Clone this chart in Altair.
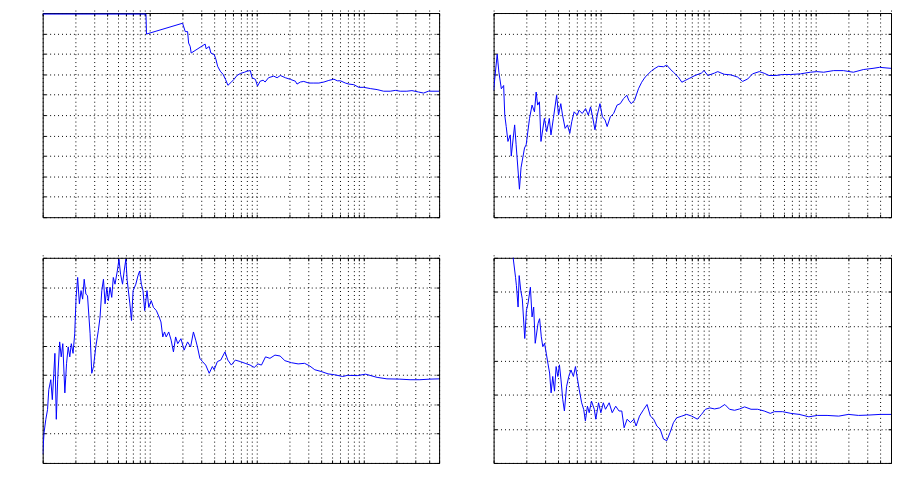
import altair as alt
import pandas as pd

# ---------------- data (y in grid units) ----------------
x1 = [1, 9.2, 9.3, 20.2, 21.4, 22.5, 23, 23.8, 24.3, 32.8, 33.5, 35.8, 37.1, 39.9, 41.4, 42.9,
      45.4, 48.3, 50.8, 53.5, 56.9, 60.9, 65.0, 70.0, 76.4, 80.5, 86.6, 89.9, 96.6, 101, 107,
      114, 119, 128, 143, 154, 165, 184, 205, 228, 236, 254, 273, 304, 339, 378, 421, 468, 522,
      561, 600, 668, 720, 800, 891, 992, 1140, 1320, 1520, 1750, 1950, 2170, 2500, 2790, 3220,
      3580, 3980, 5000]
y1 = [9.95, 9.95, 8.97, 9.50, 9.09, 9.09, 8.53, 8.36, 8.04, 8.48, 8.25, 8.36, 8.04, 7.96, 7.72, 7.39,
      7.15, 6.99, 6.75, 6.46, 6.59, 6.75, 6.94, 7.04, 7.10, 7.15, 7.18, 6.83, 6.75, 6.42, 6.66,
      6.71, 6.62, 6.83, 6.91, 6.83, 6.94, 6.83, 6.75, 6.66, 6.52, 6.62, 6.65, 6.57, 6.57, 6.57,
      6.62, 6.70, 6.76, 6.68, 6.68, 6.57, 6.52, 6.49, 6.36, 6.36, 6.30, 6.25, 6.17, 6.17, 6.21,
      6.17, 6.17, 6.20, 6.13, 6.08, 6.17, 6.17]

x2 = [1, 1.08, 1.12, 1.18, 1.24, 1.27, 1.31, 1.36, 1.43, 1.46, 1.57, 1.62, 1.74, 1.80, 1.94, 2.01,
      2.16, 2.28, 2.40, 2.49, 2.57, 2.67, 2.76, 2.97, 3.12, 3.30, 3.42, 3.60, 3.86, 4.02, 4.22,
      4.38, 4.63, 4.87, 5.12, 5.34, 5.62, 6.02, 6.23, 6.69, 7.18, 7.61, 7.99, 8.28, 8.78, 9.22,
      9.77, 10.3, 10.9, 11.4, 12.2, 13.1, 14.1, 15.1, 16.2, 17.4, 18.1, 19.1, 20.5, 22.3, 23.9,
      25.7, 27.6, 29.6, 31.8, 34.2, 38.1, 40.9, 43.9, 47.2, 52.5, 56.5, 60.8, 67.0, 74.9, 86.0,
      90.9, 98.7, 114, 122, 140, 162, 187, 208, 232, 257, 297, 330, 366, 424, 490, 580, 718, 888,
      1020, 1180, 1460, 1800, 2230, 2760, 3400, 3900, 5000]
y2 = [6.21, 7.98, 7.10, 6.29, 6.45, 5.0, 4.44, 3.71, 4.03, 2.99, 4.52, 3.55, 1.37, 2.42, 3.39, 3.55,
      4.84, 5.49, 5.16, 6.13, 5.49, 5.65, 3.71, 4.84, 4.19, 4.84, 4.03, 4.84, 5.97, 5.0, 5.56,
      5.0, 4.35, 4.52, 4.11, 4.68, 5.16, 5.0, 5.24, 5.08, 5.32, 5.0, 5.40, 5.0, 4.28, 5.0,
      5.56, 4.92, 4.76, 4.44, 4.92, 5.08, 5.49, 5.56, 5.81, 5.97, 5.73, 5.56, 5.73, 6.29, 6.61,
      6.86, 7.02, 7.18, 7.29, 7.39, 7.37, 7.45, 7.26, 7.10, 6.86, 6.61, 6.70, 6.81, 6.94, 7.06,
      7.18, 6.94, 7.06, 7.13, 7.0, 6.97, 6.86, 6.65, 6.77, 7.02, 7.13, 7.05, 6.94, 6.94, 6.99,
      6.99, 7.02, 7.10, 7.13, 7.10, 7.18, 7.18, 7.10, 7.23, 7.29, 7.34, 7.29]

x3 = [1, 1.03, 1.07, 1.11, 1.14, 1.19, 1.23, 1.27, 1.30, 1.34, 1.38, 1.44, 1.49, 1.54, 1.61, 1.67,
      1.73, 1.79, 1.85, 1.92, 1.99, 2.05, 2.12, 2.20, 2.28, 2.36, 2.44, 2.53, 2.62, 2.77, 2.87,
      2.98, 3.13, 3.31, 3.43, 3.56, 3.69, 3.82, 3.97, 4.10, 4.25, 4.41, 4.56, 4.73, 4.97, 5.15,
      5.33, 5.56, 5.76, 5.97, 6.15, 6.51, 6.74, 6.98, 7.40, 7.75, 8.03, 8.33, 8.63, 8.95, 9.41,
      9.77, 10.3, 10.8, 11.5, 12.2, 12.7, 13.2, 13.7, 14.2, 15.0, 15.8, 16.6, 17.4, 18.2, 19.5,
      20.9, 22.5, 24.0, 25.5, 26.8, 27.8, 29.3, 31.0, 33.2, 35.8, 38.3, 39.8, 42.7, 45.9, 50.2,
      53.4, 57.6, 62.7, 69.7, 77.5, 86.1, 94.3, 102, 110, 120, 132, 147, 164, 182, 210, 242, 278,
      310, 346, 398, 460, 529, 630, 700, 862, 1030, 1320, 1630, 2150, 2680, 3310, 4100, 5000]
y3 = [0.30, 1.03, 1.49, 1.82, 2.50, 2.84, 2.16, 3.06, 3.74, 1.49, 2.84, 4.13, 3.62, 4.07, 2.39, 3.40,
      3.96, 3.62, 4.07, 3.74, 4.41, 5.65, 6.33, 5.43, 5.88, 5.59, 6.27, 5.76, 5.71, 4.41, 3.06,
      3.29, 3.96, 4.53, 4.98, 5.88, 6.27, 5.43, 5.99, 5.54, 5.99, 5.65, 6.33, 6.10, 6.55, 6.95,
      6.44, 6.10, 6.55, 6.95, 6.22, 5.43, 4.86, 5.88, 6.10, 6.39, 6.55, 6.10, 5.88, 5.20, 5.88,
      5.31, 5.54, 5.31, 5.20, 4.98, 4.81, 4.30, 4.47, 4.30, 4.47, 4.19, 3.79, 4.30, 4.07, 4.24,
      3.85, 4.13, 3.96, 4.47, 4.19, 3.96, 3.57, 3.46, 3.34, 3.06, 3.29, 3.18, 3.46, 3.51, 3.79,
      3.51, 3.34, 3.51, 3.46, 3.40, 3.34, 3.26, 3.38, 3.34, 3.62, 3.57, 3.68, 3.65, 3.49, 3.42,
      3.38, 3.40, 3.31, 3.18, 3.12, 3.04, 3.01, 2.95, 2.99, 2.98, 3.03, 2.92, 2.87, 2.86, 2.84,
      2.84, 2.86, 2.87]

x4 = [1, 1.4, 1.52, 1.60, 1.63, 1.69, 1.73, 1.79, 1.85, 1.95, 2.02, 2.09, 2.20, 2.28, 2.36, 2.44,
      2.59, 2.68, 2.78, 2.87, 2.98, 3.09, 3.20, 3.32, 3.43, 3.55, 3.69, 3.82, 3.96, 4.10, 4.24,
      4.40, 4.56, 4.78, 5.01, 5.25, 5.53, 5.78, 5.98, 6.27, 6.60, 6.89, 7.15, 7.47, 7.76, 8.15,
      8.65, 8.94, 9.48, 9.96, 10.5, 11.0, 11.9, 12.7, 13.7, 14.7, 15.6, 16.4, 17.5, 18.8, 20.2,
      21.2, 22.8, 25.0, 26.8, 28.8, 30.9, 33.1, 35.5, 38.1, 40.9, 43.9, 47.2, 50.6, 56.5, 62.7,
      69.8, 79.0, 86.1, 93.8, 103, 114, 127, 142, 157, 175, 195, 217, 249, 287, 330, 376, 410,
      490, 585, 700, 860, 1030, 1270, 1630, 2010, 2490, 3070, 3970, 5000]
y4 = [7.0, 6.5, 6.0, 5.43, 5.19, 4.56, 5.48, 5.04, 4.80, 3.64, 4.46, 4.66, 5.14, 4.27, 4.56, 3.50,
      4.08, 4.22, 3.69, 3.40, 3.50, 3.21, 2.92, 2.63, 2.05, 2.53, 2.10, 2.82, 2.53, 2.87, 2.43,
      1.86, 1.52, 2.24, 2.53, 2.72, 2.53, 2.82, 2.53, 2.14, 1.76, 1.57, 1.23, 1.66, 1.47, 1.81,
      1.57, 1.28, 1.76, 1.47, 1.76, 1.57, 1.76, 1.47, 1.66, 1.52, 1.52, 1.03, 1.28, 1.18, 1.28,
      1.08, 1.37, 1.57, 1.71, 1.37, 1.28, 1.08, 0.99, 0.70, 0.65, 0.89, 1.18, 1.32, 1.37, 1.42,
      1.37, 1.28, 1.42, 1.57, 1.61, 1.58, 1.61, 1.71, 1.57, 1.54, 1.58, 1.64, 1.57, 1.57, 1.52,
      1.45, 1.50, 1.50, 1.45, 1.42, 1.35, 1.39, 1.39, 1.37, 1.42, 1.39, 1.40, 1.42, 1.42]

x_ticks = [1, 2, 3, 4, 5, 6, 7, 8, 9,
           10, 20, 30, 40, 50, 60, 70, 80, 90,
           100, 200, 300, 400, 500, 600, 700, 800, 900,
           1000, 2000, 3000, 4000, 5000]
y_max = [10, 10, 7, 6]

XDOM = [1, 5000]


def panel(xs, ys, ymax, width, height):
    df = pd.DataFrame({"x": xs, "y": ys})
    xscale = alt.Scale(type="log", domain=XDOM, nice=False)
    yscale = alt.Scale(domain=[0, ymax], nice=False, zero=False)
    yvals = list(range(ymax + 1))
    line = alt.Chart(df).mark_line(color="#0000ff", strokeWidth=1, clip=True).encode(
        x=alt.X("x:Q", scale=xscale,
                axis=alt.Axis(orient="bottom", values=x_ticks, title=None, grid=True)),
        y=alt.Y("y:Q", scale=yscale,
                axis=alt.Axis(orient="left", values=yvals, title=None, grid=True)),
    )
    ghost = alt.Chart(df).mark_line(opacity=0, clip=True).encode(
        x=alt.X("x:Q", scale=xscale,
                axis=alt.Axis(orient="top", values=x_ticks, title=None, grid=False)),
        y=alt.Y("y:Q", scale=yscale,
                axis=alt.Axis(orient="right", values=yvals, title=None, grid=False)),
    )
    return alt.layer(line, ghost).resolve_axis(x="independent", y="independent").properties(
        width=width, height=height)


p1 = panel(x1, y1, y_max[0], 400, 206)
p2 = panel(x2, y2, y_max[1], 401, 206)
p3 = panel(x3, y3, y_max[2], 400, 207)
p4 = panel(x4, y4, y_max[3], 401, 207)

chart = alt.vconcat(
    alt.hconcat(p1, p2, spacing=53),
    alt.hconcat(p3, p4, spacing=53),
    spacing=39,
).properties(
    padding={"left": 34, "top": 2, "right": 0, "bottom": 0}
).configure_view(
    stroke="black", strokeWidth=1
).configure_axis(
    labels=False, domain=False, ticks=True, tickSize=3, offset=-3,
    tickColor="black", tickWidth=1,
    gridColor="black", gridDash=[1, 3], gridOpacity=1, gridWidth=1,
    minExtent=0, maxExtent=0,
)

chart.save("out.html", embed_options={"renderer": "svg", "actions": False})
